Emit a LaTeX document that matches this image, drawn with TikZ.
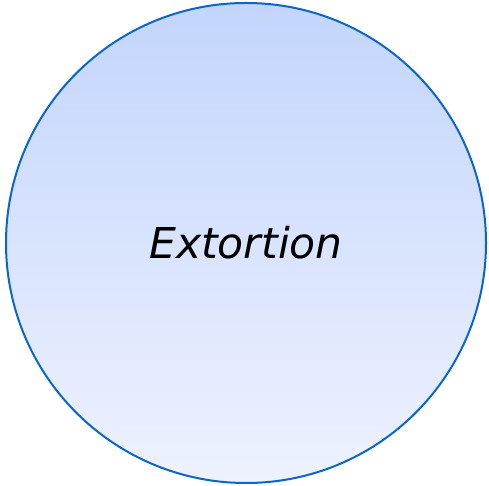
\documentclass[tikz,border=0pt]{standalone}
\usepackage{fontspec}
\setmainfont{DejaVu Sans}
\usepackage{xcolor}
\usepackage{tikz}
\usetikzlibrary{shapes.geometric}

\definecolor{ringblue}{HTML}{0A66CC}
\definecolor{filltop}{HTML}{C3D5FC}
\definecolor{fillbot}{HTML}{EEF2FE}

\begin{document}
\begin{tikzpicture}[
    x=1pt, y=1pt,
    bubble/.style={circle, minimum size=480pt, inner sep=0pt, draw=ringblue, line width=2pt, top color=filltop, bottom color=fillbot, font=\fontsize{42.5}{50}\selectfont\itshape}
]
    \useasboundingbox (0,0) rectangle (489,486);
    \node[bubble] (extortion) at (246,243) {Extortion};
\end{tikzpicture}
\end{document}
